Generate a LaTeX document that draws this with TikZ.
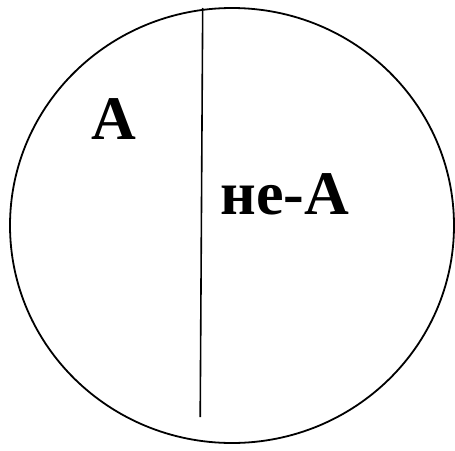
\documentclass[tikz,border=0pt]{standalone}
\usepackage{fontspec}
\setmainfont{Liberation Serif}
\usetikzlibrary{shapes.geometric}
\begin{document}
\begin{tikzpicture}[x=1pt,y=-1pt,
  lbl/.style={inner sep=0pt,anchor=base west,font=\bfseries\fontsize{62}{70}\selectfont}]
\useasboundingbox (0,0) rectangle (455,450);
\node[draw,line width=1.8pt,ellipse,minimum width=444pt,minimum height=435pt,inner sep=0pt] (c) at (232,225.5) {};
\coordinate (top) at (202.7,8);
\coordinate (bot) at (200.2,417);
\draw[line width=1.6pt] (top) -- (bot);
\node[lbl] (a) at (91.5,139) {A};
\node[lbl] (na) at (220.5,214) {не-A};
\end{tikzpicture}
\end{document}
